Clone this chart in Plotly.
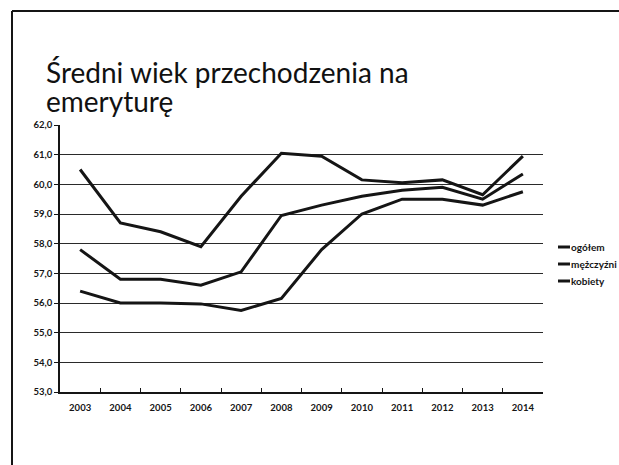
import plotly.graph_objects as go

# ---------------- data ----------------
years = ["2003", "2004", "2005", "2006", "2007", "2008",
         "2009", "2010", "2011", "2012", "2013", "2014"]
ogolem = [60.5, 58.7, 58.4, 57.9, 59.6, 61.05, 60.95, 60.15, 60.05, 60.15, 59.65, 60.95]
mezczyzni = [57.8, 56.8, 56.8, 56.6, 57.05, 58.95, 59.3, 59.6, 59.8, 59.9, 59.5, 60.35]
kobiety = [56.4, 56.0, 56.0, 55.97, 55.75, 56.15, 57.8, 59.0, 59.5, 59.5, 59.3, 59.75]
series_names = ["ogółem", "mężczyźni", "kobiety"]
y_ticks = [53, 54, 55, 56, 57, 58, 59, 60, 61, 62]
title_lines = ["Średni wiek przechodzenia na", "emeryturę"]

# ---------------- geometry helpers ----------------
W, H = 619, 465
L, R, T, B = 60, 543, 125, 392  # plot area in pixels


def px(x):
    return (x - L) / (R - L)


def py(y):
    return (B - y) / (B - T)


INK = "#151515"
FONT = "Lato"

fig = go.Figure()
for name, vals in zip(series_names, [ogolem, mezczyzni, kobiety]):
    fig.add_trace(go.Scatter(
        x=years, y=vals, mode="lines", name=name,
        line=dict(color=INK, width=3), showlegend=False,
        hoverinfo="x+y+name",
    ))

shapes = []
annotations = []

# slide frame (top and left edges visible in scan)
shapes.append(dict(type="line", xref="paper", yref="paper",
                   x0=px(12), x1=px(12), y0=py(H + 5), y1=py(11),
                   line=dict(color=INK, width=2)))
shapes.append(dict(type="line", xref="paper", yref="paper",
                   x0=px(12), x1=px(W + 5), y0=py(11), y1=py(11),
                   line=dict(color=INK, width=2)))

# title, two lines
for txt, yc in zip(title_lines, [72, 101]):
    annotations.append(dict(text=txt, xref="paper", yref="paper",
                            x=px(44), y=py(yc), xanchor="left", yanchor="middle",
                            showarrow=False,
                            font=dict(family=FONT, size=28, color="#111111")))

# legend (short line + label)
for name, yc in zip(series_names, [247, 264, 281]):
    shapes.append(dict(type="line", xref="paper", yref="paper",
                       x0=px(558), x1=px(570), y0=py(yc), y1=py(yc),
                       line=dict(color=INK, width=3)))
    annotations.append(dict(text=name, xref="paper", yref="paper",
                            x=px(569), y=py(yc), xanchor="left", yanchor="middle",
                            showarrow=False,
                            font=dict(family=FONT, size=10, color=INK, weight="bold")))

tickfont = dict(family=FONT, size=9.5, color=INK, weight="bold")

fig.update_layout(
    width=W, height=H, autosize=False,
    margin=dict(l=L, r=W - R, t=T, b=H - B, pad=0),
    paper_bgcolor="white", plot_bgcolor="white",
    separators=", ",
    showlegend=False,
    shapes=shapes, annotations=annotations,
    xaxis=dict(type="category", range=[-0.5, 11.5], showgrid=False,
               showline=True, linecolor=INK, linewidth=1.5,
               ticks="inside", tickson="boundaries", ticklen=4,
               tickcolor=INK, tickwidth=1, tickfont=tickfont,
               ticklabelstandoff=6,
               zeroline=False, fixedrange=True),
    yaxis=dict(range=[53, 62], tickvals=y_ticks, tickformat=".1f",
               showgrid=True, gridcolor="#2a2a2a", gridwidth=1.2,
               showline=True, linecolor=INK, linewidth=1.5,
               ticks="outside", ticklen=4, tickcolor=INK,
               tickfont=tickfont, zeroline=False, fixedrange=True),
)

fig.write_html(
    "out.html",
    config={"displayModeBar": False},
    post_script=(
        "document.documentElement.style.margin='0';"
        "document.documentElement.style.overflow='hidden';"
        "document.body.style.margin='0';"
        "document.body.style.overflow='hidden';"
    ),
)
